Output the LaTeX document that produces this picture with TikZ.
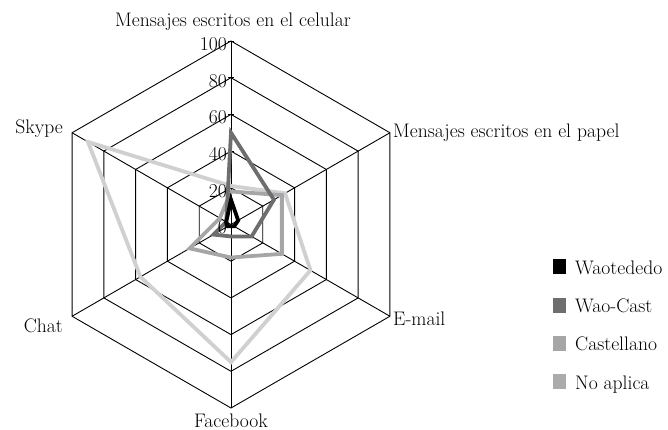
\documentclass[tikz,border=0pt]{standalone}
\usetikzlibrary{calc}
\begin{document}
\begin{tikzpicture}[x=1pt,y=-1pt,
  every node/.style={font=\fontsize{19.6}{22}\selectfont, inner sep=0pt},
  gridline/.style={black, line width=0.9pt},
  series/.style={line width=3.8pt, line join=miter},
  keybox/.style={minimum width=13pt, minimum height=15pt, anchor=north west},
  ticklabel/.style={anchor=east}]
\definecolor{cwao}{HTML}{000000}
\definecolor{cwaocast}{HTML}{6E6E70}
\definecolor{ccast}{HTML}{A6A6A8}
\definecolor{cnoapl}{HTML}{D0D0D0}
\definecolor{cnoaplkey}{HTML}{ABABAD}
\useasboundingbox (0,0) rectangle (668,430);
\def\s{1.835}
\coordinate (O) at (231,224.5);
\begin{scope}[shift={(O)}]
  % grid rings
  \foreach \v in {20,40,60,80,100}{
    \draw[gridline] (-90:{\v*\s}) -- (-30:{\v*\s}) -- (30:{\v*\s}) -- (90:{\v*\s}) -- (150:{\v*\s}) -- (210:{\v*\s}) -- cycle;
    \draw[gridline] ($(-90:{\v*\s})+(-3,0)$) -- ($(-90:{\v*\s})+(3,0)$);
  }
  % axis ends
  \coordinate (cel) at (-90:{100*\s});
  \coordinate (pap) at (-30:{100*\s});
  \coordinate (ema) at (30:{100*\s});
  \coordinate (fac) at (90:{100*\s});
  \coordinate (cha) at (150:{100*\s});
  \coordinate (sky) at (210:{100*\s});
  \coordinate (ctr) at (0,0);
  \foreach \e in {cel,pap,ema,fac,cha,sky} \draw[gridline] (ctr) -- (\e);
  % series
  \draw[series, cnoapl] (-90:{21*\s}) -- (-30:{34*\s}) -- (30:{50*\s}) -- (90:{75*\s}) -- (150:{57*\s}) -- (210:{90*\s}) -- cycle;
  \draw[series, ccast] (-90:{18*\s}) -- (-30:{32*\s}) -- (30:{32*\s}) -- (90:{18*\s}) -- (150:{26*\s}) -- (210:{7*\s}) -- cycle;
  \draw[series, cwaocast] (-90:{50*\s}) -- (-30:{27*\s}) -- (30:{13*\s}) -- (90:{6.5*\s}) -- (150:{11*\s}) -- (210:{3*\s}) -- cycle;
  \draw[series, cwao] (-90:{13.5*\s}) -- (-30:{4.5*\s}) -- (30:{2*\s}) -- (90:{1*\s}) -- (150:{2*\s}) -- (210:{3*\s}) -- cycle;
\end{scope}
% value labels
\foreach \v in {0,20,40,60,80,100}{
  \node[ticklabel] (t\v) at (227,{224.5-\v*\s+3}) {\v};
}
% axis labels
\node[anchor=base] (lcel) at (233,27) {Mensajes escritos en el celular};
\node[anchor=base west] (lpap) at (393,138) {Mensajes escritos en el papel};
\node[anchor=base west] (lema) at (393,325) {E-mail};
\node[anchor=base] (lfac) at (231,427) {Facebook};
\node[anchor=base east] (lcha) at (63,332) {Chat};
\node[anchor=base east] (lsky) at (63,134) {Skype};
% legend
\node[keybox, fill=cwao] (k1) at (553,259) {};
\node[keybox, fill=cwaocast] (k2) at (553,297.3) {};
\node[keybox, fill=ccast] (k3) at (553,335.6) {};
\node[keybox, fill=cnoaplkey] (k4) at (553,374) {};
\node[anchor=base west] (n1) at (575,274) {Waotededo};
\node[anchor=base west] (n2) at (575,312.3) {Wao-Cast};
\node[anchor=base west] (n3) at (575,350.6) {Castellano};
\node[anchor=base west] (n4) at (575,389) {No aplica};
\end{tikzpicture}
\end{document}
